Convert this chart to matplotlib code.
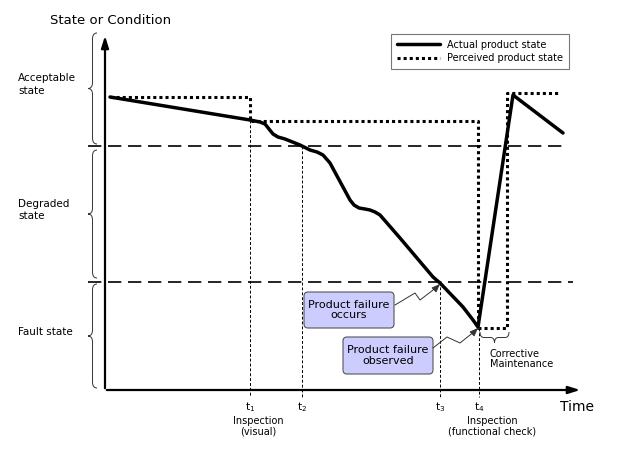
import matplotlib
matplotlib.use('Agg')
import matplotlib.pyplot as plt
from matplotlib.path import Path
from matplotlib.patches import PathPatch, FancyBboxPatch
import numpy as np

# product state over time (arbitrary time / condition units)
actual_t = [5, 145, 155, 160, 164, 168, 173, 180, 195, 205, 212, 218, 225, 245,
            249, 254, 260, 265, 270, 275, 295, 328, 335, 358, 368, 373, 408, 458]
actual_c = [293, 270, 268, 266, 261, 256, 253, 251, 245, 240, 238, 235, 227, 190,
            185, 182, 181, 180, 178, 175, 152, 113, 107, 83, 70, 63, 295, 257]
perceived_t = [5, 145, 145, 373, 373, 402, 402, 455]
perceived_c = [293, 293, 269, 269, 62, 62, 297, 297]

degraded_level = 244
fault_level = 108

event_times = [145, 197, 335, 374]
event_tops = [270, 244, 108, 62]
event_labels = ['t$_1$', 't$_2$', 't$_3$', 't$_4$']

state_names = ['Acceptable\nstate', 'Degraded\nstate', 'Fault state']
state_ranges = [(357, 246), (240, 112), (106, 2)]

plt.rcParams['font.family'] = ['DejaVu Sans']
plt.rcParams['mathtext.fontset'] = 'dejavusans'

fig = plt.figure(figsize=(6.24, 4.68), dpi=100)
ax = fig.add_axes([0, 0, 1, 1])
ax.set_xlim(-105, 519)
ax.set_ylim(-78, 390)
ax.axis('off')


def vbrace(ax, top, bot, xb=-8, xt=-17):
    xm = (xb + xt) / 2
    mid = (top + bot) / 2
    r = 6
    verts = [(xb, top), (xm, top), (xm, top - r),
             (xm, mid + r), (xm, mid), (xt, mid),
             (xm, mid), (xm, mid - r),
             (xm, bot + r), (xm, bot), (xb, bot)]
    codes = [Path.MOVETO, Path.CURVE3, Path.CURVE3,
             Path.LINETO, Path.CURVE3, Path.CURVE3,
             Path.CURVE3, Path.CURVE3,
             Path.LINETO, Path.CURVE3, Path.CURVE3]
    ax.add_patch(PathPatch(Path(verts, codes), fill=False, lw=0.7, color='#333333'))


def hbrace(ax, left, right, yb=58, yt=47):
    ym = (yb + yt) / 2
    mid = (left + right) / 2
    r = 4
    verts = [(left, yb), (left, ym), (left + r, ym),
             (mid - r, ym), (mid, ym), (mid, yt),
             (mid, ym), (mid + r, ym),
             (right - r, ym), (right, ym), (right, yb)]
    codes = [Path.MOVETO, Path.CURVE3, Path.CURVE3,
             Path.LINETO, Path.CURVE3, Path.CURVE3,
             Path.CURVE3, Path.CURVE3,
             Path.LINETO, Path.CURVE3, Path.CURVE3]
    ax.add_patch(PathPatch(Path(verts, codes), fill=False, lw=0.7, color='#333333'))


# axes with arrows
ax.annotate('', xy=(0, 357), xytext=(0, -1),
            arrowprops=dict(arrowstyle='-|>,head_length=0.7,head_width=0.22', lw=1.6, color='black'))
ax.annotate('', xy=(478, 0), xytext=(-1, 0),
            arrowprops=dict(arrowstyle='-|>,head_length=0.7,head_width=0.22', lw=1.6, color='black'))

# threshold lines
ax.plot([-17, 462], [degraded_level, degraded_level], color='black', lw=1.2,
        linestyle=(0, (8, 4)))
ax.plot([-17, 468], [fault_level, fault_level], color='black', lw=1.2,
        linestyle=(0, (8, 4)))

# event lines
for t, top, lab in zip(event_times, event_tops, event_labels):
    ax.plot([t, t], [top, -7], color='black', lw=0.7, linestyle=(0, (3, 2)))
    ax.text(t, -17, lab, ha='center', va='center', fontsize=7.5)

ax.text(153, -36, 'Inspection\n(visual)', ha='center', va='center', fontsize=7,
        linespacing=1.1)
ax.text(387, -36, 'Inspection\n(functional check)', ha='center', va='center', fontsize=7,
        linespacing=1.1)
ax.text(472, -17, 'Time', ha='center', va='center', fontsize=10)
ax.text(-55, 370, 'State or Condition', ha='left', va='center', fontsize=9.5)

# state braces and labels
for name, (top, bot) in zip(state_names, state_ranges):
    vbrace(ax, top, bot)
    ax.text(-87, (top + bot) / 2 + 4, name, ha='left', va='center', fontsize=7.5,
            linespacing=1.3)

# product state curves
ax.plot(actual_t, actual_c, color='black', lw=2.5, solid_joinstyle='round',
        solid_capstyle='round', label='Actual product state')
ax.plot(perceived_t, perceived_c, color='black', lw=2.2, linestyle=(0, (1, 1)),
        dash_capstyle='butt', label='Perceived product state')

# corrective maintenance
hbrace(ax, 375, 404)
ax.text(385, 31, 'Corrective\nMaintenance', ha='left', va='center', fontsize=7,
        linespacing=1.1)

# callout boxes
boxes = [((199, 62, 90, 36), 'Product failure\noccurs',
          [(290, 85), (310, 97), (315, 90), (332, 103)], (335, 106)),
         ((238, 16, 90, 37), 'Product failure\nobserved',
          [(328, 42), (342, 53), (355, 47), (370, 59)], (373, 62))]
for (bx, by, bw, bh), txt, zig, tip in boxes:
    ax.add_patch(FancyBboxPatch((bx + 4, by + 4), bw - 8, bh - 8,
                                boxstyle='round,pad=4', fc='#CCCCFF', ec='#555555', lw=0.8))
    ax.text(bx + bw / 2, by + bh / 2, txt, ha='center', va='center', fontsize=8,
            linespacing=1.1)
    zx, zy = zip(*zig)
    ax.plot(zx, zy, color='#333333', lw=0.7)
    ax.annotate('', xy=tip, xytext=zig[-1],
                arrowprops=dict(arrowstyle='-|>,head_length=0.5,head_width=0.2',
                                lw=0.7, color='#333333', shrinkA=0, shrinkB=0))

leg = ax.legend(loc='upper right', bbox_to_anchor=(574 / 624, 1 - 29 / 468),
                bbox_transform=fig.transFigure, fontsize=7, frameon=True,
                fancybox=False, handlelength=4.4, borderpad=0.6, labelspacing=0.35)
leg.get_frame().set_edgecolor('#555555')
leg.get_frame().set_linewidth(0.8)

fig.savefig('out.png', dpi=100)
